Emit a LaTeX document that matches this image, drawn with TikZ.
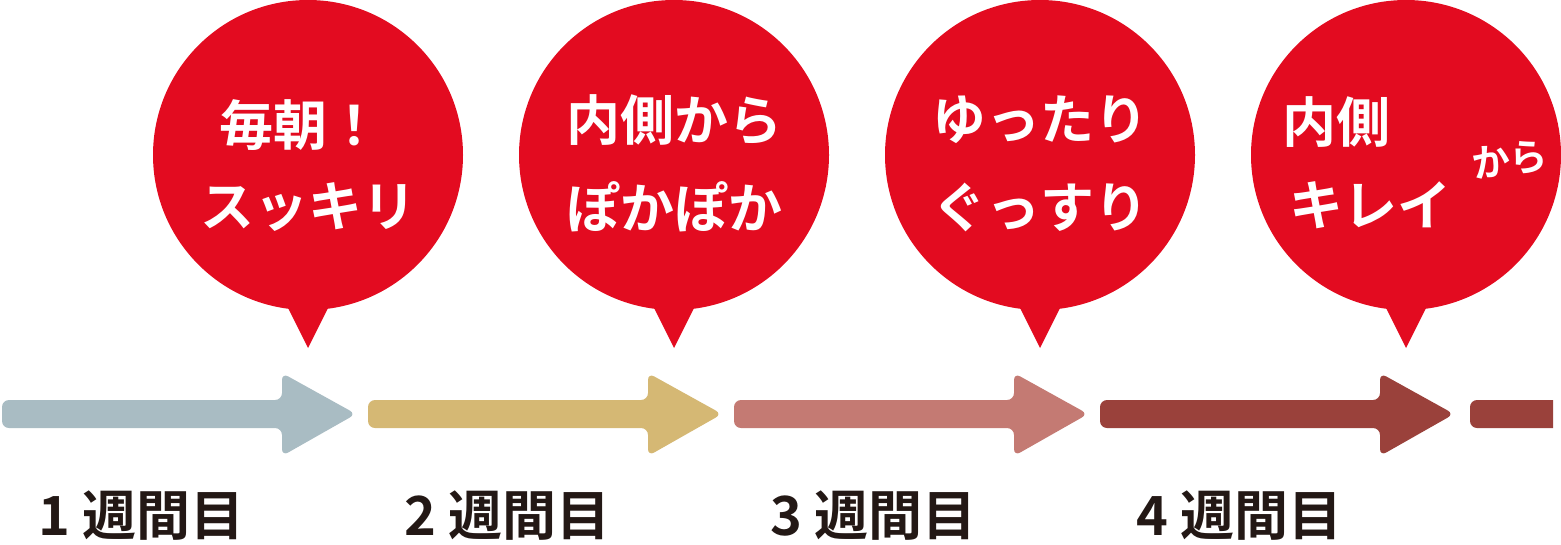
\documentclass[tikz,border=0pt]{standalone}
\usepackage{fontspec}
\newfontfamily\jp{Noto Sans CJK JP Bold}
\definecolor{cred}{HTML}{E30B20}
\definecolor{ca}{HTML}{A9BCC3}
\definecolor{cb}{HTML}{D5B874}
\definecolor{cc}{HTML}{C47A73}
\definecolor{cd}{HTML}{9A413B}
\definecolor{ctext}{HTML}{231815}
\tikzset{bubble/.style={fill=cred},
 btxt/.style={text=white,font=\jp\fontsize{54}{58}\selectfont,inner sep=0pt},
 wk/.style={text=ctext,font=\jp\fontsize{54}{58}\selectfont,inner sep=0pt,anchor=west}}
\begin{document}
\begin{tikzpicture}[x=1pt,y=-1pt]
\useasboundingbox (0,0) rectangle (1561,544);
\foreach \cx/\col [count=\i] in {308/ca,674/cb,1040/cc,1406/cd}{
  \fill[bubble] (\cx,155) circle (155);
  \fill[bubble] (\cx-24,300) -- (\cx+24,300) -- (\cx,348) -- cycle;
  \pgfmathsetmacro\xs{\cx-306}
  \pgfmathsetmacro\xh{\cx-26}
  \pgfmathsetmacro\xt{\cx+48}
  \fill[\col,rounded corners=7pt] (\xs,400) -- (\xh,400) -- (\xh,373) -- (\xt,414) -- (\xh,456) -- (\xh,428) -- (\xs,428) -- cycle;
  \node[wk] (w\i) at (\cx-270,516) {\i\ 週間目};
}
\fill[cd,rounded corners=7pt] (1553,400) -- (1470,400) -- (1470,428) -- (1553,428);
\fill[cd] (1540,400) rectangle (1553,428);
\node[btxt] (t1a) at (300,125) {毎朝！};
\node[btxt] (t1b) at (308,207) {スッキリ};
\node[btxt] (t2a) at (674,120) {内側から};
\node[btxt] (t2b) at (674,207) {ぽかぽか};
\node[btxt] (t3a) at (1040,120) {ゆったり};
\node[btxt] (t3b) at (1040,207) {ぐっすり};
\node[btxt] (t4a) at (1336,122) {内側};
\node[btxt] (t4b) at (1370,205) {キレイ};
\node[btxt,font=\jp\fontsize{38}{42}\selectfont,rotate=8] (t4c) at (1510,160) {から};
\end{tikzpicture}
\end{document}
